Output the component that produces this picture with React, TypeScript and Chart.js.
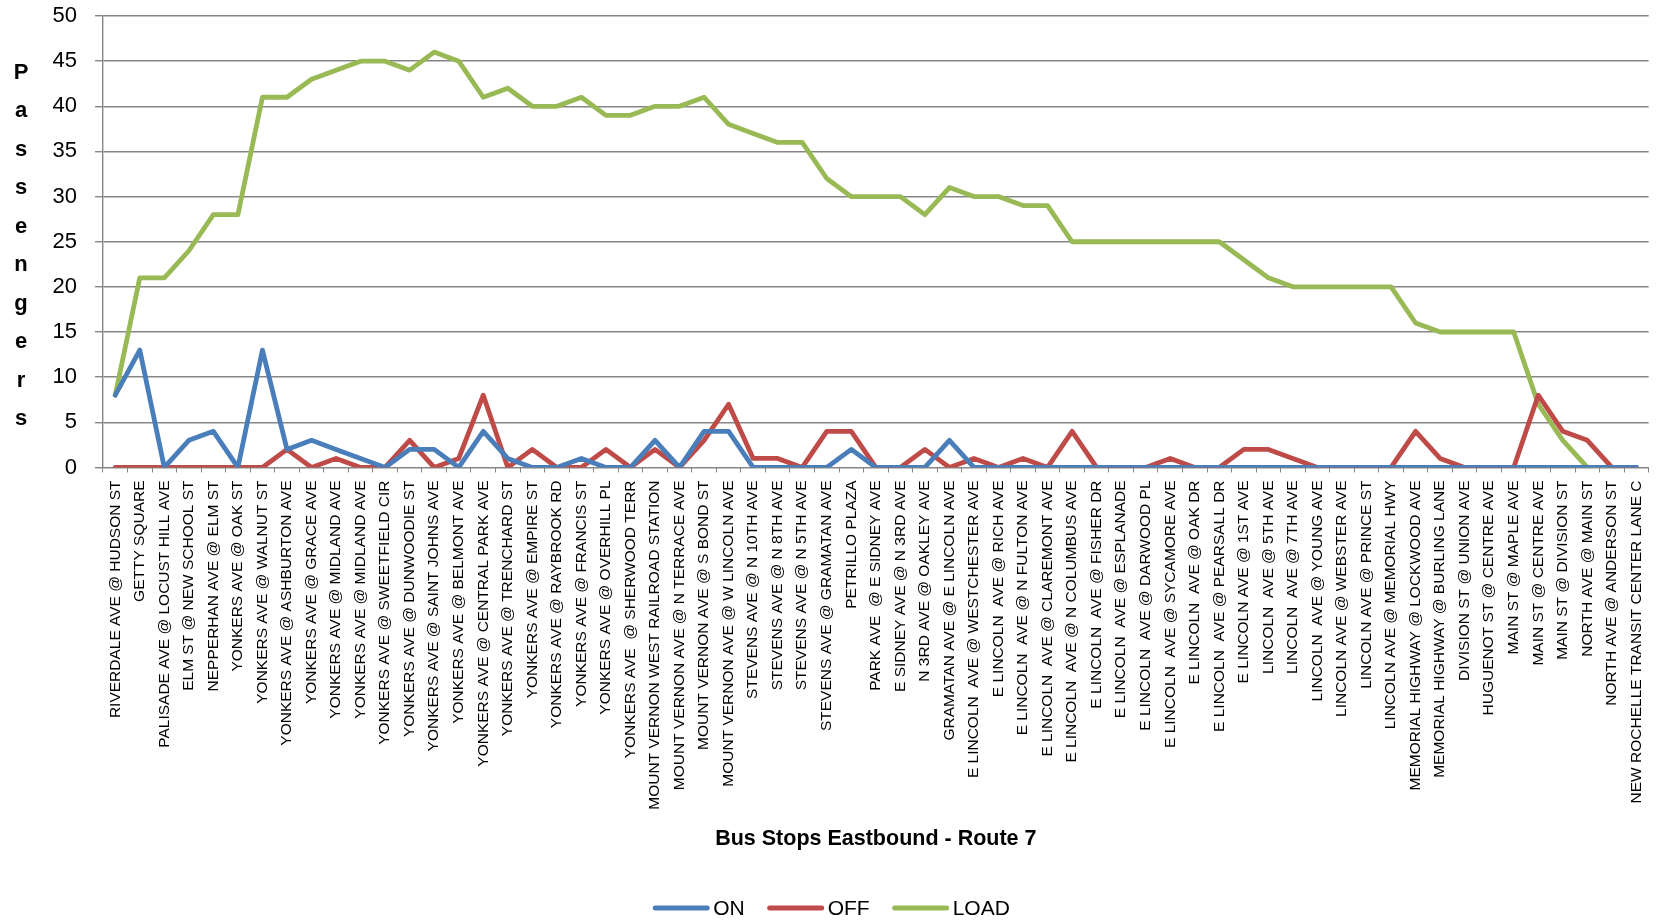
import React, { useEffect, useRef } from "react";
import { Chart, registerables } from "chart.js";

Chart.register(...registerables);

const stops = [
  "RIVERDALE AVE @ HUDSON ST",
  "GETTY SQUARE",
  "PALISADE AVE @ LOCUST HILL AVE",
  "ELM ST @ NEW SCHOOL ST",
  "NEPPERHAN AVE @ ELM ST",
  "YONKERS AVE @ OAK ST",
  "YONKERS AVE @ WALNUT ST",
  "YONKERS AVE @ ASHBURTON AVE",
  "YONKERS AVE @ GRACE AVE",
  "YONKERS AVE @ MIDLAND AVE",
  "YONKERS AVE @ MIDLAND AVE",
  "YONKERS AVE @ SWEETFIELD CIR",
  "YONKERS AVE @ DUNWOODIE ST",
  "YONKERS AVE @ SAINT JOHNS AVE",
  "YONKERS AVE @ BELMONT AVE",
  "YONKERS AVE @ CENTRAL PARK AVE",
  "YONKERS AVE @ TRENCHARD ST",
  "YONKERS AVE @ EMPIRE ST",
  "YONKERS AVE @ RAYBROOK RD",
  "YONKERS AVE @ FRANCIS ST",
  "YONKERS AVE @ OVERHILL PL",
  "YONKERS AVE  @ SHERWOOD TERR",
  "MOUNT VERNON WEST RAILROAD STATION",
  "MOUNT VERNON AVE @ N TERRACE AVE",
  "MOUNT VERNON AVE @ S BOND ST",
  "MOUNT VERNON AVE @ W LINCOLN AVE",
  "STEVENS AVE @ N 10TH AVE",
  "STEVENS AVE @ N 8TH AVE",
  "STEVENS AVE @ N 5TH AVE",
  "STEVENS AVE @ GRAMATAN AVE",
  "PETRILLO PLAZA",
  "PARK AVE  @ E SIDNEY AVE",
  "E SIDNEY AVE @ N 3RD AVE",
  "N 3RD AVE @ OAKLEY AVE",
  "GRAMATAN AVE @ E LINCOLN AVE",
  "E LINCOLN  AVE @ WESTCHESTER AVE",
  "E LINCOLN  AVE @ RICH AVE",
  "E LINCOLN  AVE @ N FULTON AVE",
  "E LINCOLN  AVE @ CLAREMONT AVE",
  "E LINCOLN  AVE @ N COLUMBUS AVE",
  "E LINCOLN  AVE @ FISHER DR",
  "E LINCOLN  AVE @ ESPLANADE",
  "E LINCOLN  AVE @ DARWOOD PL",
  "E LINCOLN  AVE @ SYCAMORE AVE",
  "E LINCOLN  AVE @ OAK DR",
  "E LINCOLN  AVE @ PEARSALL DR",
  "E LINCOLN AVE @ 1ST AVE",
  "LINCOLN  AVE @ 5TH AVE",
  "LINCOLN  AVE @ 7TH AVE",
  "LINCOLN  AVE @ YOUNG AVE",
  "LINCOLN AVE @ WEBSTER AVE",
  "LINCOLN AVE @ PRINCE ST",
  "LINCOLN AVE @ MEMORIAL HWY",
  "MEMORIAL HIGHWAY @ LOCKWOOD AVE",
  "MEMORIAL HIGHWAY @ BURLING LANE",
  "DIVISION ST @ UNION AVE",
  "HUGUENOT ST @ CENTRE AVE",
  "MAIN ST @ MAPLE AVE",
  "MAIN ST @ CENTRE AVE",
  "MAIN ST @ DIVISION ST",
  "NORTH AVE @ MAIN ST",
  "NORTH AVE @ ANDERSON ST",
  "NEW ROCHELLE TRANSIT CENTER LANE C",
];

const onValues = [
  8, 13, 0, 3, 4, 0, 13, 2, 3, 2, 1, 0, 2, 2, 0, 4, 1, 0, 0, 1, 0,
  0, 3, 0, 4, 4, 0, 0, 0, 0, 2, 0, 0, 0, 3, 0, 0, 0, 0, 0, 0, 0,
  0, 0, 0, 0, 0, 0, 0, 0, 0, 0, 0, 0, 0, 0, 0, 0, 0, 0, 0, 0, 0,
];

const offValues = [
  0, 0, 0, 0, 0, 0, 0, 2, 0, 1, 0, 0, 3, 0, 1, 8, 0, 2, 0, 0, 2,
  0, 2, 0, 3, 7, 1, 1, 0, 4, 4, 0, 0, 2, 0, 1, 0, 1, 0, 4, 0, 0,
  0, 1, 0, 0, 2, 2, 1, 0, 0, 0, 0, 4, 1, 0, 0, 0, 8, 4, 3, 0, 0,
];

const loadValues = [
  8, 21, 21, 24, 28, 28, 41, 41, 43, 44, 45, 45, 44, 46, 45, 41, 42, 40, 40, 41, 39,
  39, 40, 40, 41, 38, 37, 36, 36, 32, 30, 30, 30, 28, 31, 30, 30, 29, 29, 25, 25, 25,
  25, 25, 25, 25, 23, 21, 20, 20, 20, 20, 20, 16, 15, 15, 15, 15, 7, 3, 0, 0, 0,
];

const seriesNames = ["ON", "OFF", "LOAD"];
const seriesColors = ["#4A7EBB", "#BE4B48", "#98B954"];
const yTitle = "Passengers";
const xTitle = "Bus Stops Eastbound - Route 7";

const FONT = "'Liberation Sans', Arial, sans-serif";
const GRID = "#868686";

const stackedTitlePlugin = {
  id: "stackedTitle",
  afterDraw(chart: any) {
    const { ctx, chartArea } = chart;
    const letters = yTitle.split("");
    const spacing = 38.5;
    const cy = (chartArea.top + chartArea.bottom) / 2 + 4;
    ctx.save();
    ctx.font = `bold 22px ${FONT}`;
    ctx.fillStyle = "#000";
    ctx.textAlign = "center";
    ctx.textBaseline = "middle";
    letters.forEach((ch, i) => {
      ctx.fillText(ch, 21, cy + (i - (letters.length - 1) / 2) * spacing);
    });
    ctx.restore();
  },
};

const legendPlugin = {
  id: "customLegend",
  afterDraw(chart: any) {
    const { ctx } = chart;
    const lineLen = 56;
    const gapText = 4;
    const gapItem = 23;
    const y = chart.height - 15;
    ctx.save();
    ctx.font = `21px ${FONT}`;
    const ds = chart.data.datasets;
    const widths = ds.map((d: any) => lineLen + gapText + ctx.measureText(d.label).width);
    const total = widths.reduce((a: number, b: number) => a + b, 0) + gapItem * (ds.length - 1);
    let x = chart.width / 2 - total / 2;
    ds.forEach((d: any, i: number) => {
      ctx.strokeStyle = d.borderColor;
      ctx.lineWidth = 5;
      ctx.lineCap = "round";
      ctx.beginPath();
      ctx.moveTo(x + 2, y);
      ctx.lineTo(x + lineLen - 2, y);
      ctx.stroke();
      ctx.fillStyle = "#000";
      ctx.textAlign = "left";
      ctx.textBaseline = "middle";
      ctx.fillText(d.label, x + lineLen + gapText, y + 1);
      x += widths[i] + gapItem;
    });
    ctx.restore();
  },
};

export default function App() {
  const canvasRef = useRef<HTMLCanvasElement | null>(null);

  useEffect(() => {
    if (!canvasRef.current) return;
    const valueSets = [onValues, offValues, loadValues];
    const chart = new Chart(canvasRef.current, {
      type: "line",
      data: {
        labels: stops,
        datasets: seriesNames.map((name, i) => ({
          label: name,
          data: valueSets[i],
          borderColor: seriesColors[i],
          backgroundColor: seriesColors[i],
          borderWidth: 4.8,
          pointRadius: 0,
          pointHoverRadius: 0,
          tension: 0,
          borderCapStyle: "round",
          borderJoinStyle: "round",
          fill: false,
        })),
      },
      options: {
        animation: false,
        responsive: false,
        layout: { padding: { left: 51.5, top: 16, right: -2, bottom: 69.5 } },
        plugins: {
          legend: { display: false },
          tooltip: { enabled: false },
          title: { display: false },
        },
        scales: {
          x: {
            offset: true,
            grid: {
              display: true,
              drawOnChartArea: false,
              drawTicks: true,
              tickLength: 5,
              offset: true,
              color: GRID,
            },
            border: { display: true, color: GRID },
            ticks: {
              autoSkip: false,
              maxRotation: 90,
              minRotation: 90,
              padding: 8,
              color: "#000",
              font: { family: FONT, size: 15.5 },
            },
            title: {
              display: true,
              text: xTitle,
              color: "#000",
              font: { family: FONT, size: 21.5, weight: "bold" },
              padding: { top: 8, bottom: 2 },
            },
          },
          y: {
            min: 0,
            max: 50,
            ticks: {
              stepSize: 5,
              padding: 1,
              color: "#000",
              font: { family: FONT, size: 22 },
            },
            grid: {
              color: GRID,
              lineWidth: 1.4,
              tickLength: 25,
              tickBorderDash: [8, 17],
              tickBorderDashOffset: 8,
            },
            border: { display: true, color: GRID, width: 1.4 },
          },
        },
      },
      plugins: [stackedTitlePlugin, legendPlugin],
    } as any);
    return () => chart.destroy();
  }, []);

  return (
    <div style={{ position: "absolute", left: 0, top: 0, width: 1663, height: 923, background: "#fff" }}>
      <canvas ref={canvasRef} width={1663} height={923} style={{ display: "block" }} />
    </div>
  );
}
